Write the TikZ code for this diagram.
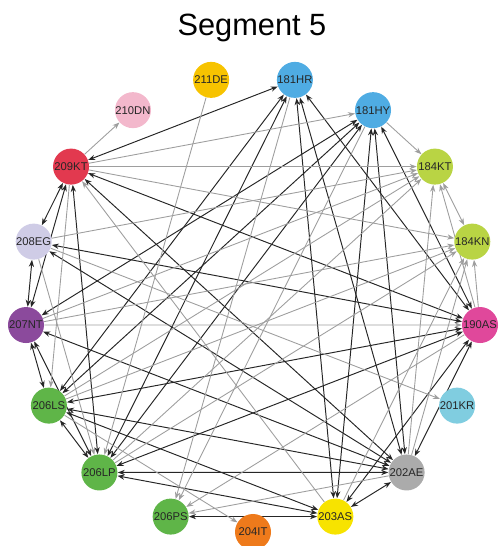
\documentclass[tikz,border=0pt]{standalone}
\usepackage{fontspec}
\setmainfont{Liberation Sans}
\usepackage{tikz}
\usetikzlibrary{arrows.meta}

\definecolor{cIT}{HTML}{EE7A1B}
\definecolor{cAS}{HTML}{F7E300}
\definecolor{cAE}{HTML}{ABABAB}
\definecolor{cKR}{HTML}{80CDE0}
\definecolor{cAM}{HTML}{E0489B}
\definecolor{cKN}{HTML}{B9D444}
\definecolor{cHY}{HTML}{4FACE3}
\definecolor{cDE}{HTML}{F7C300}
\definecolor{cDN}{HTML}{F3B8CC}
\definecolor{cKT}{HTML}{E2394F}
\definecolor{cEG}{HTML}{CFCCE6}
\definecolor{cNT}{HTML}{8B4A9C}
\definecolor{cLS}{HTML}{5FB548}

\tikzset{
  seg/.style={circle, minimum size=0.72cm, inner sep=0pt, font=\fontsize{6.4}{7}\selectfont, text=black!85},
  tip/.style={},
  dark/.style={draw=black!85, line width=0.55pt, {Stealth[length=4pt,width=3pt]}-{Stealth[length=4pt,width=3pt]}},
  light/.style={draw=black!38, line width=0.5pt, -{Stealth[length=4pt,width=3pt]}}
}

\begin{document}
\begin{tikzpicture}
\useasboundingbox (0,0) rectangle (9.98,10.92);
\node[anchor=base, font=\fontsize{17.5}{20}\selectfont] (title) at (5.04,10.2) {Segment 5};

\begin{scope}[shift={(5.06,4.84)}]
\foreach \lbl [count=\k from 0] in {204IT,203AS,202AE,201KR,190AS,184KN,184KT,181HY,181HR,211DE,210DN,209KT,208EG,207NT,206LS,206LP,206PS}
  \node[seg] (\lbl) at ({-90+\k*360/17}:4.56) {};
\end{scope}

\foreach \a/\b in {209KT/181HR,209KT/190AS,209KT/202AE,209KT/208EG,209KT/207NT,209KT/206LP,
  208EG/207NT,208EG/202AE,208EG/190AS,
  207NT/206LS,207NT/206LP,207NT/202AE,207NT/181HY,
  206LS/206LP,206LS/190AS,206LS/202AE,206LS/203AS,206LS/181HY,206LS/181HR,
  206LP/181HR,206LP/181HY,206LP/190AS,206LP/202AE,206LP/203AS,
  206PS/203AS,
  203AS/181HR,203AS/181HY,203AS/190AS,203AS/202AE,
  202AE/181HR,202AE/181HY,202AE/190AS,
  190AS/181HR,190AS/181HY}
  \draw[dark] (\a) -- (\b);

\foreach \a/\b in {209KT/210DN,209KT/181HY,209KT/184KT,209KT/184KN,209KT/206LS,203AS/209KT,211DE/206LP,
  208EG/184KT,208EG/201KR,208EG/206LP,
  207NT/190AS,207NT/184KN,207NT/184KT,
  206LS/204IT,206LS/184KN,206LS/184KT,
  206LP/184KT,206LP/184KN,
  181HY/184KT,181HY/206PS,181HR/206PS,190AS/206PS,202AE/206PS,
  202AE/184KT,202AE/184KN,203AS/184KN,190AS/184KN,190AS/184KT}
  \draw[light] (\a) -- (\b);
\draw[light, {Stealth[length=4pt,width=3pt]}-{Stealth[length=4pt,width=3pt]}] (184KT) -- (184KN);

\begin{scope}[shift={(5.06,4.84)}]
\foreach \lbl/\col [count=\k from 0] in {204IT/cIT,203AS/cAS,202AE/cAE,201KR/cKR,190AS/cAM,184KN/cKN,184KT/cKN,181HY/cHY,181HR/cHY,211DE/cDE,210DN/cDN,209KT/cKT,208EG/cEG,207NT/cNT,206LS/cLS,206LP/cLS,206PS/cLS}
  \node[seg, fill=\col] at ({-90+\k*360/17}:4.56) {\lbl};
\end{scope}
\end{tikzpicture}
\end{document}
